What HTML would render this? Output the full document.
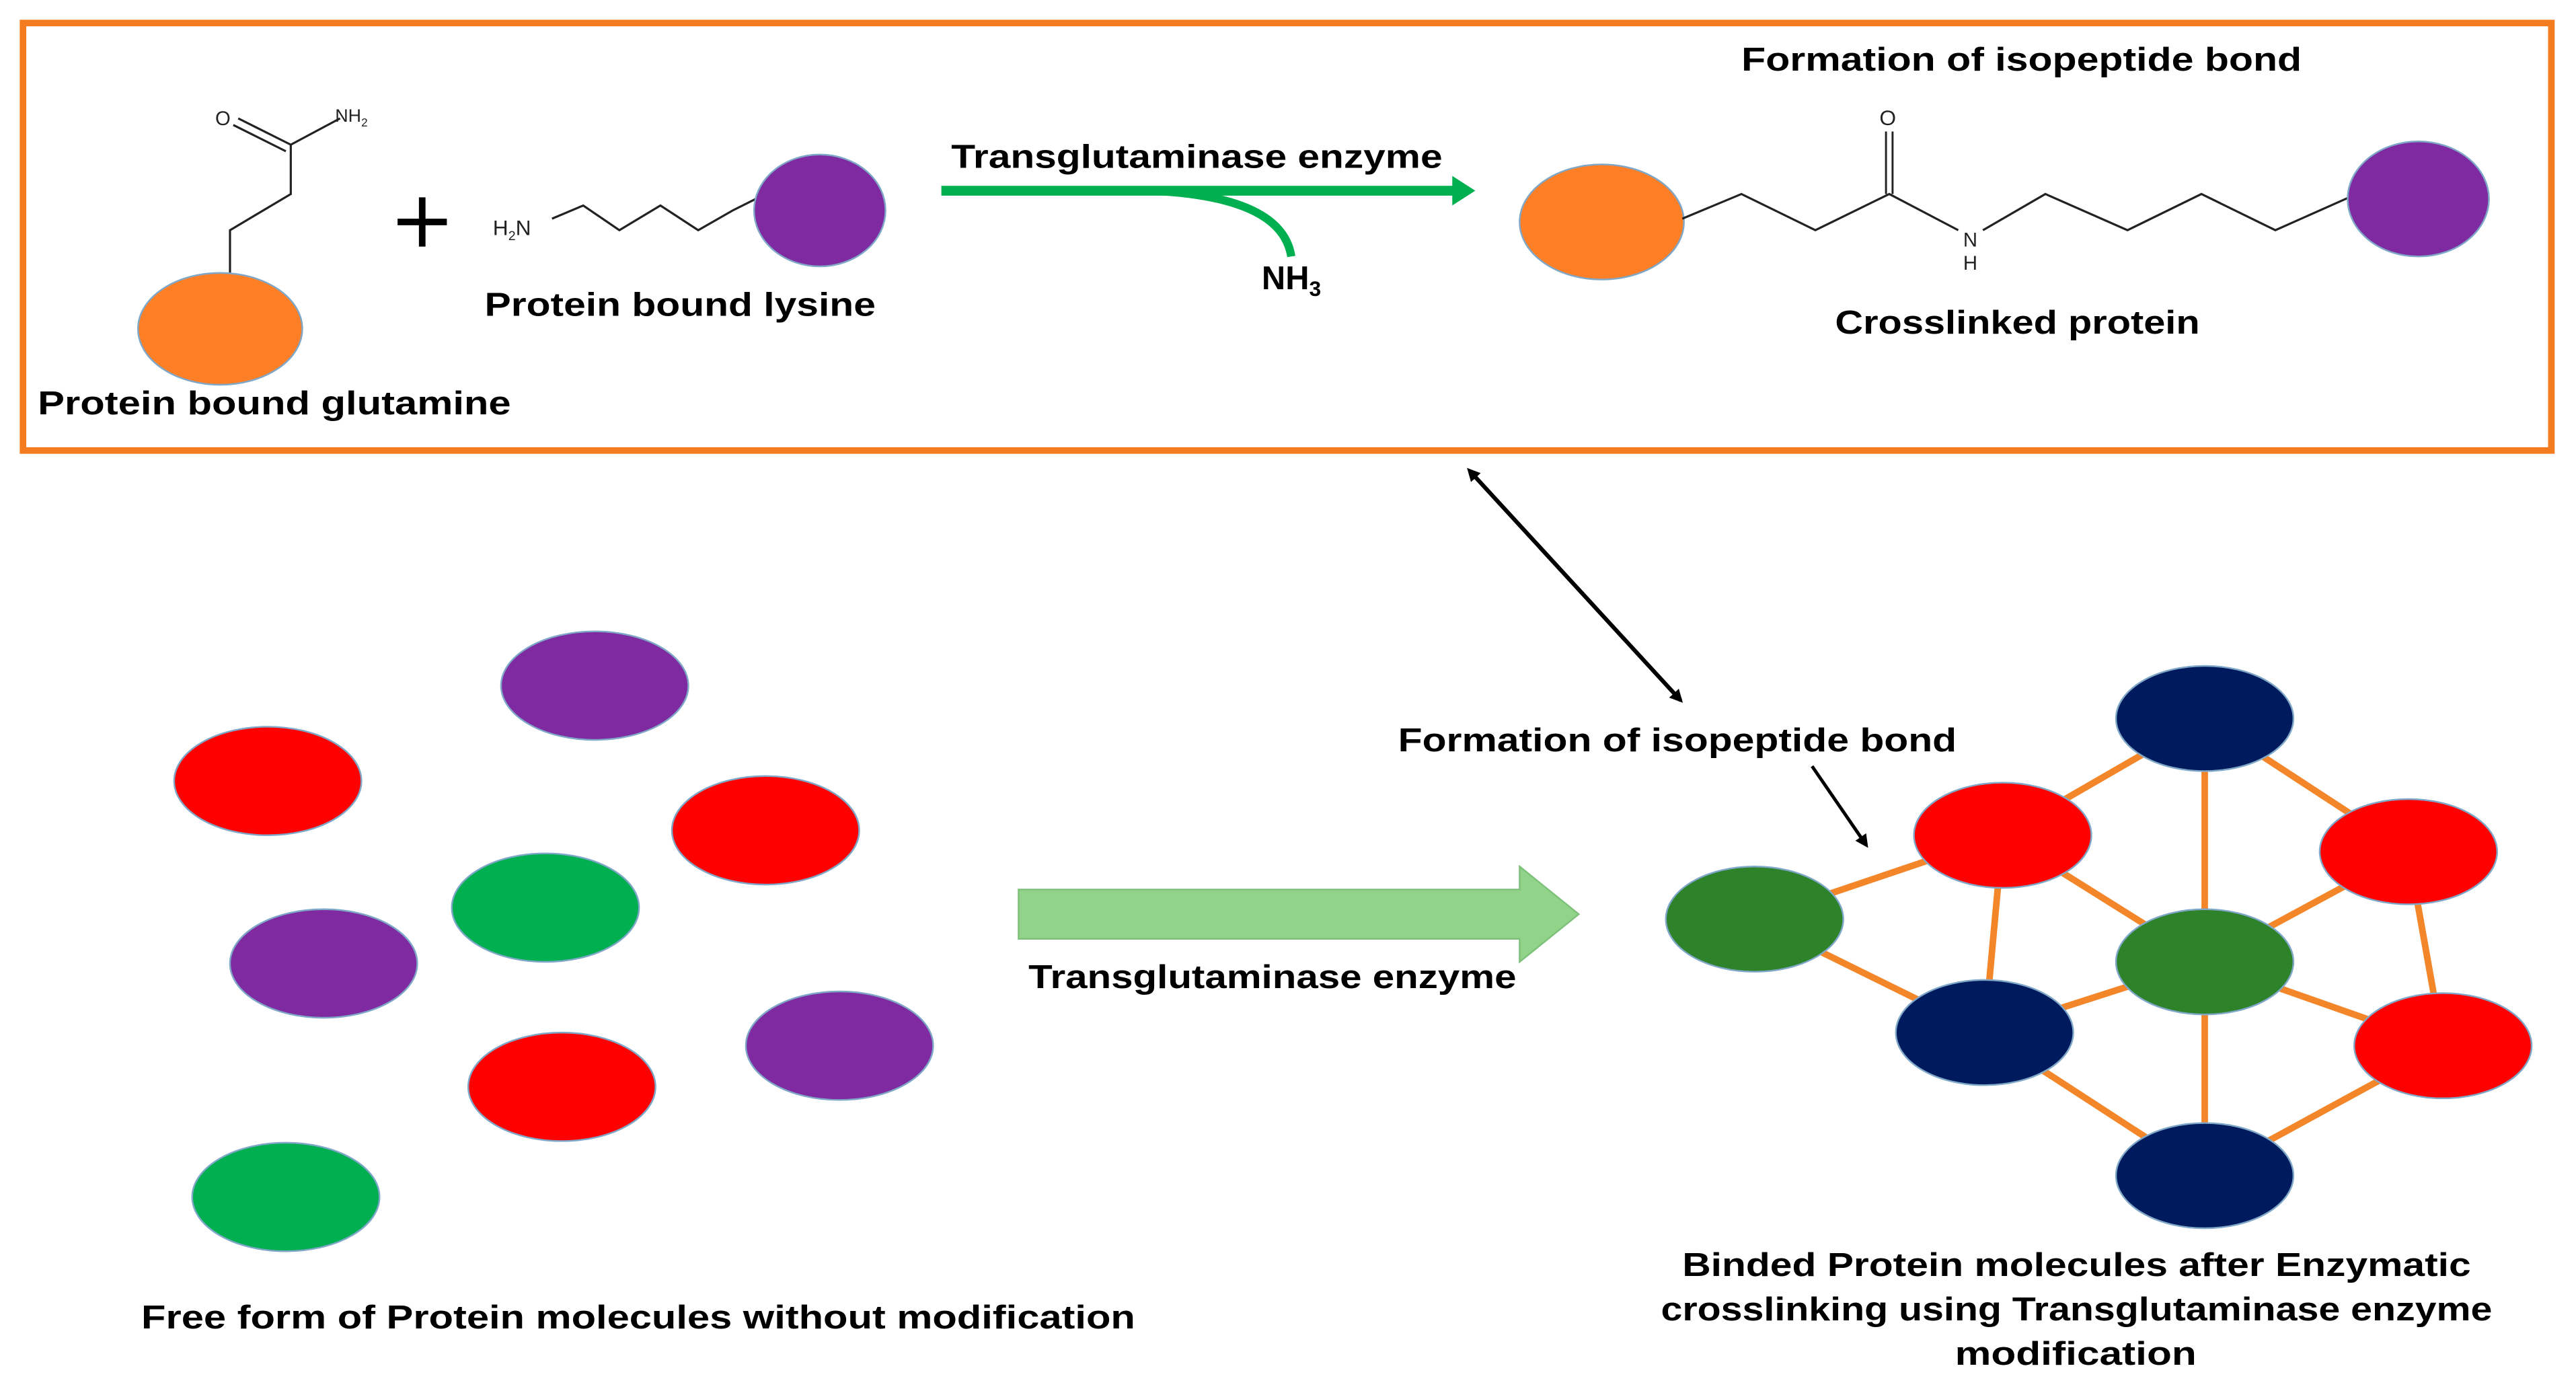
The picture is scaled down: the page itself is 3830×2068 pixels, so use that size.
<!DOCTYPE html>
<html><head><meta charset="utf-8"><style>html,body{margin:0;padding:0;background:#fff}svg{display:block}</style></head>
<body>
<svg width="3830" height="2068" viewBox="0 0 1568 846" preserveAspectRatio="none" xmlns="http://www.w3.org/2000/svg" font-family="Liberation Sans, sans-serif">
<defs>
<marker id="ah" markerWidth="8" markerHeight="8" refX="6" refY="4" orient="auto" markerUnits="userSpaceOnUse"><path d="M0,0 L8,4 L0,8 z" fill="#000"/></marker>
<marker id="ahs" markerWidth="8" markerHeight="8" refX="2" refY="4" orient="auto-start-reverse" markerUnits="userSpaceOnUse"><path d="M0,0 L8,4 L0,8 z" fill="#000"/></marker>
</defs>
<rect x="14" y="14" width="1539" height="260" fill="none" stroke="#F47C20" stroke-width="4"/>
<!-- glutamine -->
<g stroke="#222" stroke-width="1.3" fill="none">
<path d="M140,166 L140,140 L177,118 L177,88"/>
<path d="M177,88 L207,72"/>
<path d="M177,88 L145,72 M174,92 L142,76"/>
</g>
<text x="131" y="76" font-size="12" fill="#222">O</text>
<text x="204" y="74" font-size="11" fill="#222">NH<tspan font-size="7" dy="3">2</tspan></text>
<ellipse cx="134" cy="200" rx="50" ry="34" fill="#FF7F27" stroke="#7fa7c7" stroke-width="1"/>
<text x="23" y="252" font-size="20" font-weight="bold" textLength="288" lengthAdjust="spacingAndGlyphs">Protein bound glutamine</text>
<!-- plus -->
<path d="M257,120 L257,150 M242,135 L272,135" stroke="#000" stroke-width="4"/>
<!-- lysine -->
<text x="300" y="143" font-size="13" fill="#222">H<tspan font-size="8" dy="3">2</tspan><tspan dy="-3">N</tspan></text>
<path d="M336,133 L355,125 L377,140 L402,125 L425,140 L446,128 L462,120" stroke="#222" stroke-width="1.3" fill="none"/>
<ellipse cx="499" cy="128" rx="40" ry="34" fill="#7F2AA0" stroke="#7fa7c7" stroke-width="1"/>
<text x="295" y="192" font-size="20" font-weight="bold" textLength="238" lengthAdjust="spacingAndGlyphs">Protein bound lysine</text>
<!-- green arrow -->
<text x="579" y="102" font-size="20" font-weight="bold" textLength="299" lengthAdjust="spacingAndGlyphs">Transglutaminase enzyme</text>
<path d="M573,116 L886,116" stroke="#00B050" stroke-width="6"/>
<path d="M884,107 L898,116 L884,125 z" fill="#00B050"/>
<path d="M700,116 C750,118 782,130 786,156" stroke="#00B050" stroke-width="5" fill="none"/>
<text x="768" y="176" font-size="20" font-weight="bold">NH<tspan font-size="13" dy="4">3</tspan></text>
<!-- crosslinked -->
<text x="1060" y="43" font-size="20" font-weight="bold" textLength="341" lengthAdjust="spacingAndGlyphs">Formation of isopeptide bond</text>
<ellipse cx="975" cy="135" rx="50" ry="35" fill="#FF7F27" stroke="#7fa7c7" stroke-width="1"/>
<path d="M1024,133 L1060,118 L1105,140 L1150,118 L1192,140 M1207,140 L1245,118 L1295,140 L1340,118 L1385,140 L1430,120" stroke="#222" stroke-width="1.3" fill="none"/>
<path d="M1148,118 L1148,80 M1152,118 L1152,80" stroke="#222" stroke-width="1.2"/>
<text x="1144" y="76" font-size="13" fill="#222">O</text>
<text x="1195" y="150" font-size="12" fill="#222">N</text>
<text x="1195" y="164" font-size="12" fill="#222">H</text>
<ellipse cx="1472" cy="121" rx="43" ry="35" fill="#7F2AA0" stroke="#7fa7c7" stroke-width="1"/>
<text x="1117" y="203" font-size="20" font-weight="bold" textLength="222" lengthAdjust="spacingAndGlyphs">Crosslinked protein</text>
<!-- double arrow -->
<line x1="897" y1="289" x2="1023" y2="426" stroke="#000" stroke-width="2.5" marker-start="url(#ahs)" marker-end="url(#ah)"/>
<!-- free proteins -->
<g stroke="#7fa7c7" stroke-width="1">
<ellipse cx="362" cy="417" rx="57" ry="33" fill="#7F2AA0"/>
<ellipse cx="163" cy="475" rx="57" ry="33" fill="#FF0000"/>
<ellipse cx="466" cy="505" rx="57" ry="33" fill="#FF0000"/>
<ellipse cx="332" cy="552" rx="57" ry="33" fill="#00B050"/>
<ellipse cx="197" cy="586" rx="57" ry="33" fill="#7F2AA0"/>
<ellipse cx="342" cy="661" rx="57" ry="33" fill="#FF0000"/>
<ellipse cx="511" cy="636" rx="57" ry="33" fill="#7F2AA0"/>
<ellipse cx="174" cy="728" rx="57" ry="33" fill="#00B050"/>
</g>
<text x="86" y="808" font-size="20" font-weight="bold" textLength="605" lengthAdjust="spacingAndGlyphs">Free form of Protein molecules without modification</text>
<!-- big arrow -->
<path d="M620,541 L925,541 L925,527 L961,556 L925,585 L925,571 L620,571 z" fill="#92D38A" stroke="#7fc07a" stroke-width="1"/>
<text x="626" y="601" font-size="20" font-weight="bold" textLength="297" lengthAdjust="spacingAndGlyphs">Transglutaminase enzyme</text>
<text x="851" y="457" font-size="20" font-weight="bold" textLength="340" lengthAdjust="spacingAndGlyphs">Formation of isopeptide bond</text>
<line x1="1103" y1="466" x2="1136" y2="514" stroke="#000" stroke-width="2" marker-end="url(#ah)"/>
<!-- network -->
<g stroke="#F4862A" stroke-width="4">
<line x1="1068" y1="559" x2="1219" y2="508"/>
<line x1="1068" y1="559" x2="1208" y2="628"/>
<line x1="1219" y1="508" x2="1342" y2="437"/>
<line x1="1342" y1="437" x2="1466" y2="518"/>
<line x1="1342" y1="437" x2="1342" y2="585"/>
<line x1="1219" y1="508" x2="1208" y2="628"/>
<line x1="1219" y1="508" x2="1342" y2="585"/>
<line x1="1466" y1="518" x2="1342" y2="585"/>
<line x1="1466" y1="518" x2="1487" y2="636"/>
<line x1="1342" y1="585" x2="1208" y2="628"/>
<line x1="1342" y1="585" x2="1487" y2="636"/>
<line x1="1342" y1="585" x2="1342" y2="715"/>
<line x1="1208" y1="628" x2="1342" y2="715"/>
<line x1="1487" y1="636" x2="1342" y2="715"/>
</g>
<g stroke="#7fa7c7" stroke-width="1">
<ellipse cx="1342" cy="437" rx="54" ry="32" fill="#001A5E"/>
<ellipse cx="1219" cy="508" rx="54" ry="32" fill="#FF0000"/>
<ellipse cx="1466" cy="518" rx="54" ry="32" fill="#FF0000"/>
<ellipse cx="1068" cy="559" rx="54" ry="32" fill="#2E8229"/>
<ellipse cx="1342" cy="585" rx="54" ry="32" fill="#2E8229"/>
<ellipse cx="1208" cy="628" rx="54" ry="32" fill="#001A5E"/>
<ellipse cx="1487" cy="636" rx="54" ry="32" fill="#FF0000"/>
<ellipse cx="1342" cy="715" rx="54" ry="32" fill="#001A5E"/>
</g>
<text x="1024" y="776" font-size="20" font-weight="bold" textLength="480" lengthAdjust="spacingAndGlyphs">Binded Protein molecules after Enzymatic</text>
<text x="1011" y="803" font-size="20" font-weight="bold" textLength="506" lengthAdjust="spacingAndGlyphs">crosslinking using Transglutaminase enzyme</text>
<text x="1190" y="830" font-size="20" font-weight="bold" textLength="147" lengthAdjust="spacingAndGlyphs">modification</text>
</svg>
</body></html>
